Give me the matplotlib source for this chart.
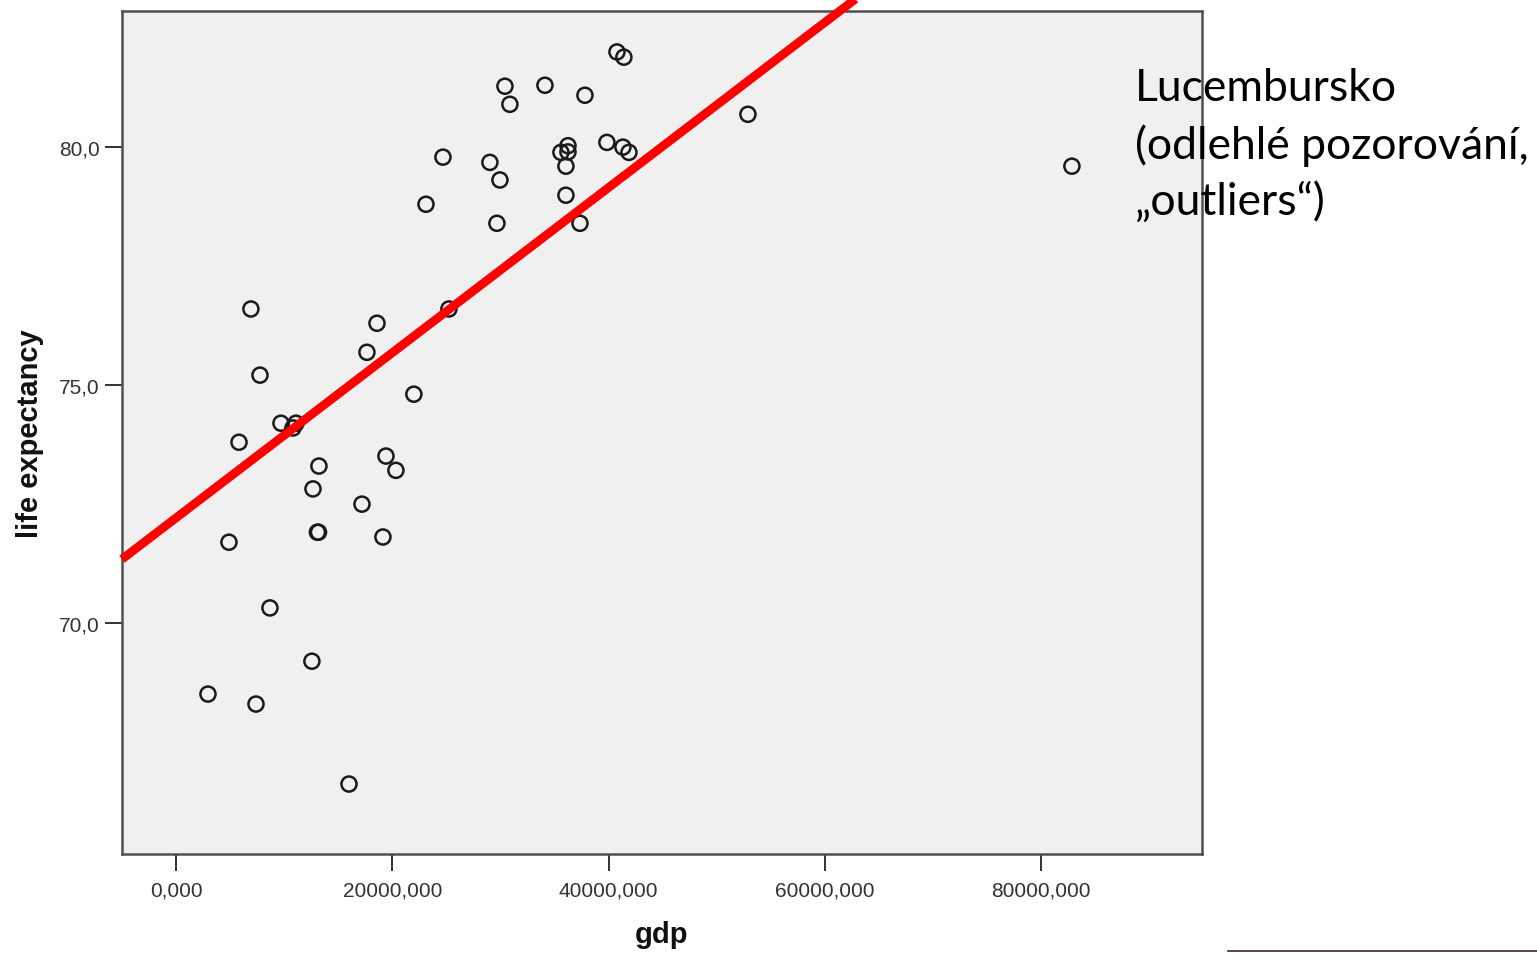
import matplotlib
matplotlib.use("Agg")
import matplotlib.pyplot as plt
from matplotlib.lines import Line2D
import numpy as np

# ---- data ----
gdp = [2960, 4900, 5830, 6930, 7770, 7400, 8690, 9710, 10820, 11100,
       12670, 13220, 13080, 13180, 12570, 16000, 17200, 17660, 18590, 19140,
       19420, 20340, 22000, 23120, 24690, 25240, 29030, 29680, 29960, 30420,
       30880, 34120, 35600, 36250, 36250, 36060, 36060, 37360, 37820, 39850,
       40780, 41420, 41330, 41890, 52890, 82850]
life = [68.51, 71.70, 73.80, 76.60, 75.21, 68.30, 70.32, 74.20, 74.10, 74.20,
        72.82, 73.30, 71.91, 71.91, 69.20, 66.62, 72.50, 75.69, 76.30, 71.81,
        73.51, 73.21, 74.81, 78.80, 79.79, 76.60, 79.68, 78.40, 79.31, 81.28,
        80.90, 81.30, 79.89, 80.03, 79.90, 79.60, 78.99, 78.40, 81.09, 80.10,
        82.00, 81.89, 80.00, 79.89, 80.69, 79.60]

fit_intercept = 72.21
fit_slope = 1.735e-4

x_ticks = [0, 20000, 40000, 60000, 80000]
x_ticklabels = ["0,000", "20000,000", "40000,000", "60000,000", "80000,000"]
y_ticks = [70, 75, 80]
y_ticklabels = ["70,0", "75,0", "80,0"]

annotation = "Lucembursko\n(odlehlé pozorování,\n\u201eoutliers\u201c)"

# ---- figure ----
W, H = 1537, 954
fig = plt.figure(figsize=(W / 100, H / 100), dpi=100)
ax = fig.add_axes([122 / W, 1 - 855 / H, (1202 - 122) / W, (855 - 12) / H])
ax.set_facecolor("#f0f0f0")

ax.set_xlim(-4990, 94880)
ax.set_ylim(65.15, 82.86)

ax.scatter(gdp, life, s=118, facecolors="none", edgecolors="#1a1a1a",
           linewidths=1.8, zorder=3)

xl = np.array([-4990, 75000])
ax.plot(xl, fit_intercept + fit_slope * xl, color="#ff0000", lw=6.3,
        solid_capstyle="butt", clip_on=False, zorder=4)

for s in ax.spines.values():
    s.set_color("#505050")
    s.set_linewidth(1.8)

ax.set_xticks(x_ticks)
ax.set_xticklabels(x_ticklabels)
ax.set_yticks(y_ticks)
ax.set_yticklabels(y_ticklabels)
ax.tick_params(axis="both", direction="out", length=12, width=1.4,
               color="#333333", labelcolor="#333333", labelsize=15)
ax.tick_params(axis="x", pad=7)
ax.tick_params(axis="y", pad=4)
for lab in ax.get_xticklabels() + ax.get_yticklabels():
    lab.set_fontfamily("Liberation Sans")

ax.set_xlabel("gdp", fontsize=21, fontweight="bold",
              fontfamily="Liberation Sans", labelpad=15, color="#111111")
ax.set_ylabel("life expectancy", fontsize=21, fontweight="bold",
              fontfamily="Liberation Sans", labelpad=11, color="#111111")

fig.text(1135 / W, 1 - 68 / H, annotation, fontsize=32, fontfamily="Lato",
         va="top", ha="left", linespacing=1.43, color="#000000")

fig.add_artist(Line2D([1228 / W, 1.0], [1 - 952 / H, 1 - 952 / H],
                      color="#5a1a1a", lw=1.2, transform=fig.transFigure))

fig.savefig("out.png", dpi=100)
